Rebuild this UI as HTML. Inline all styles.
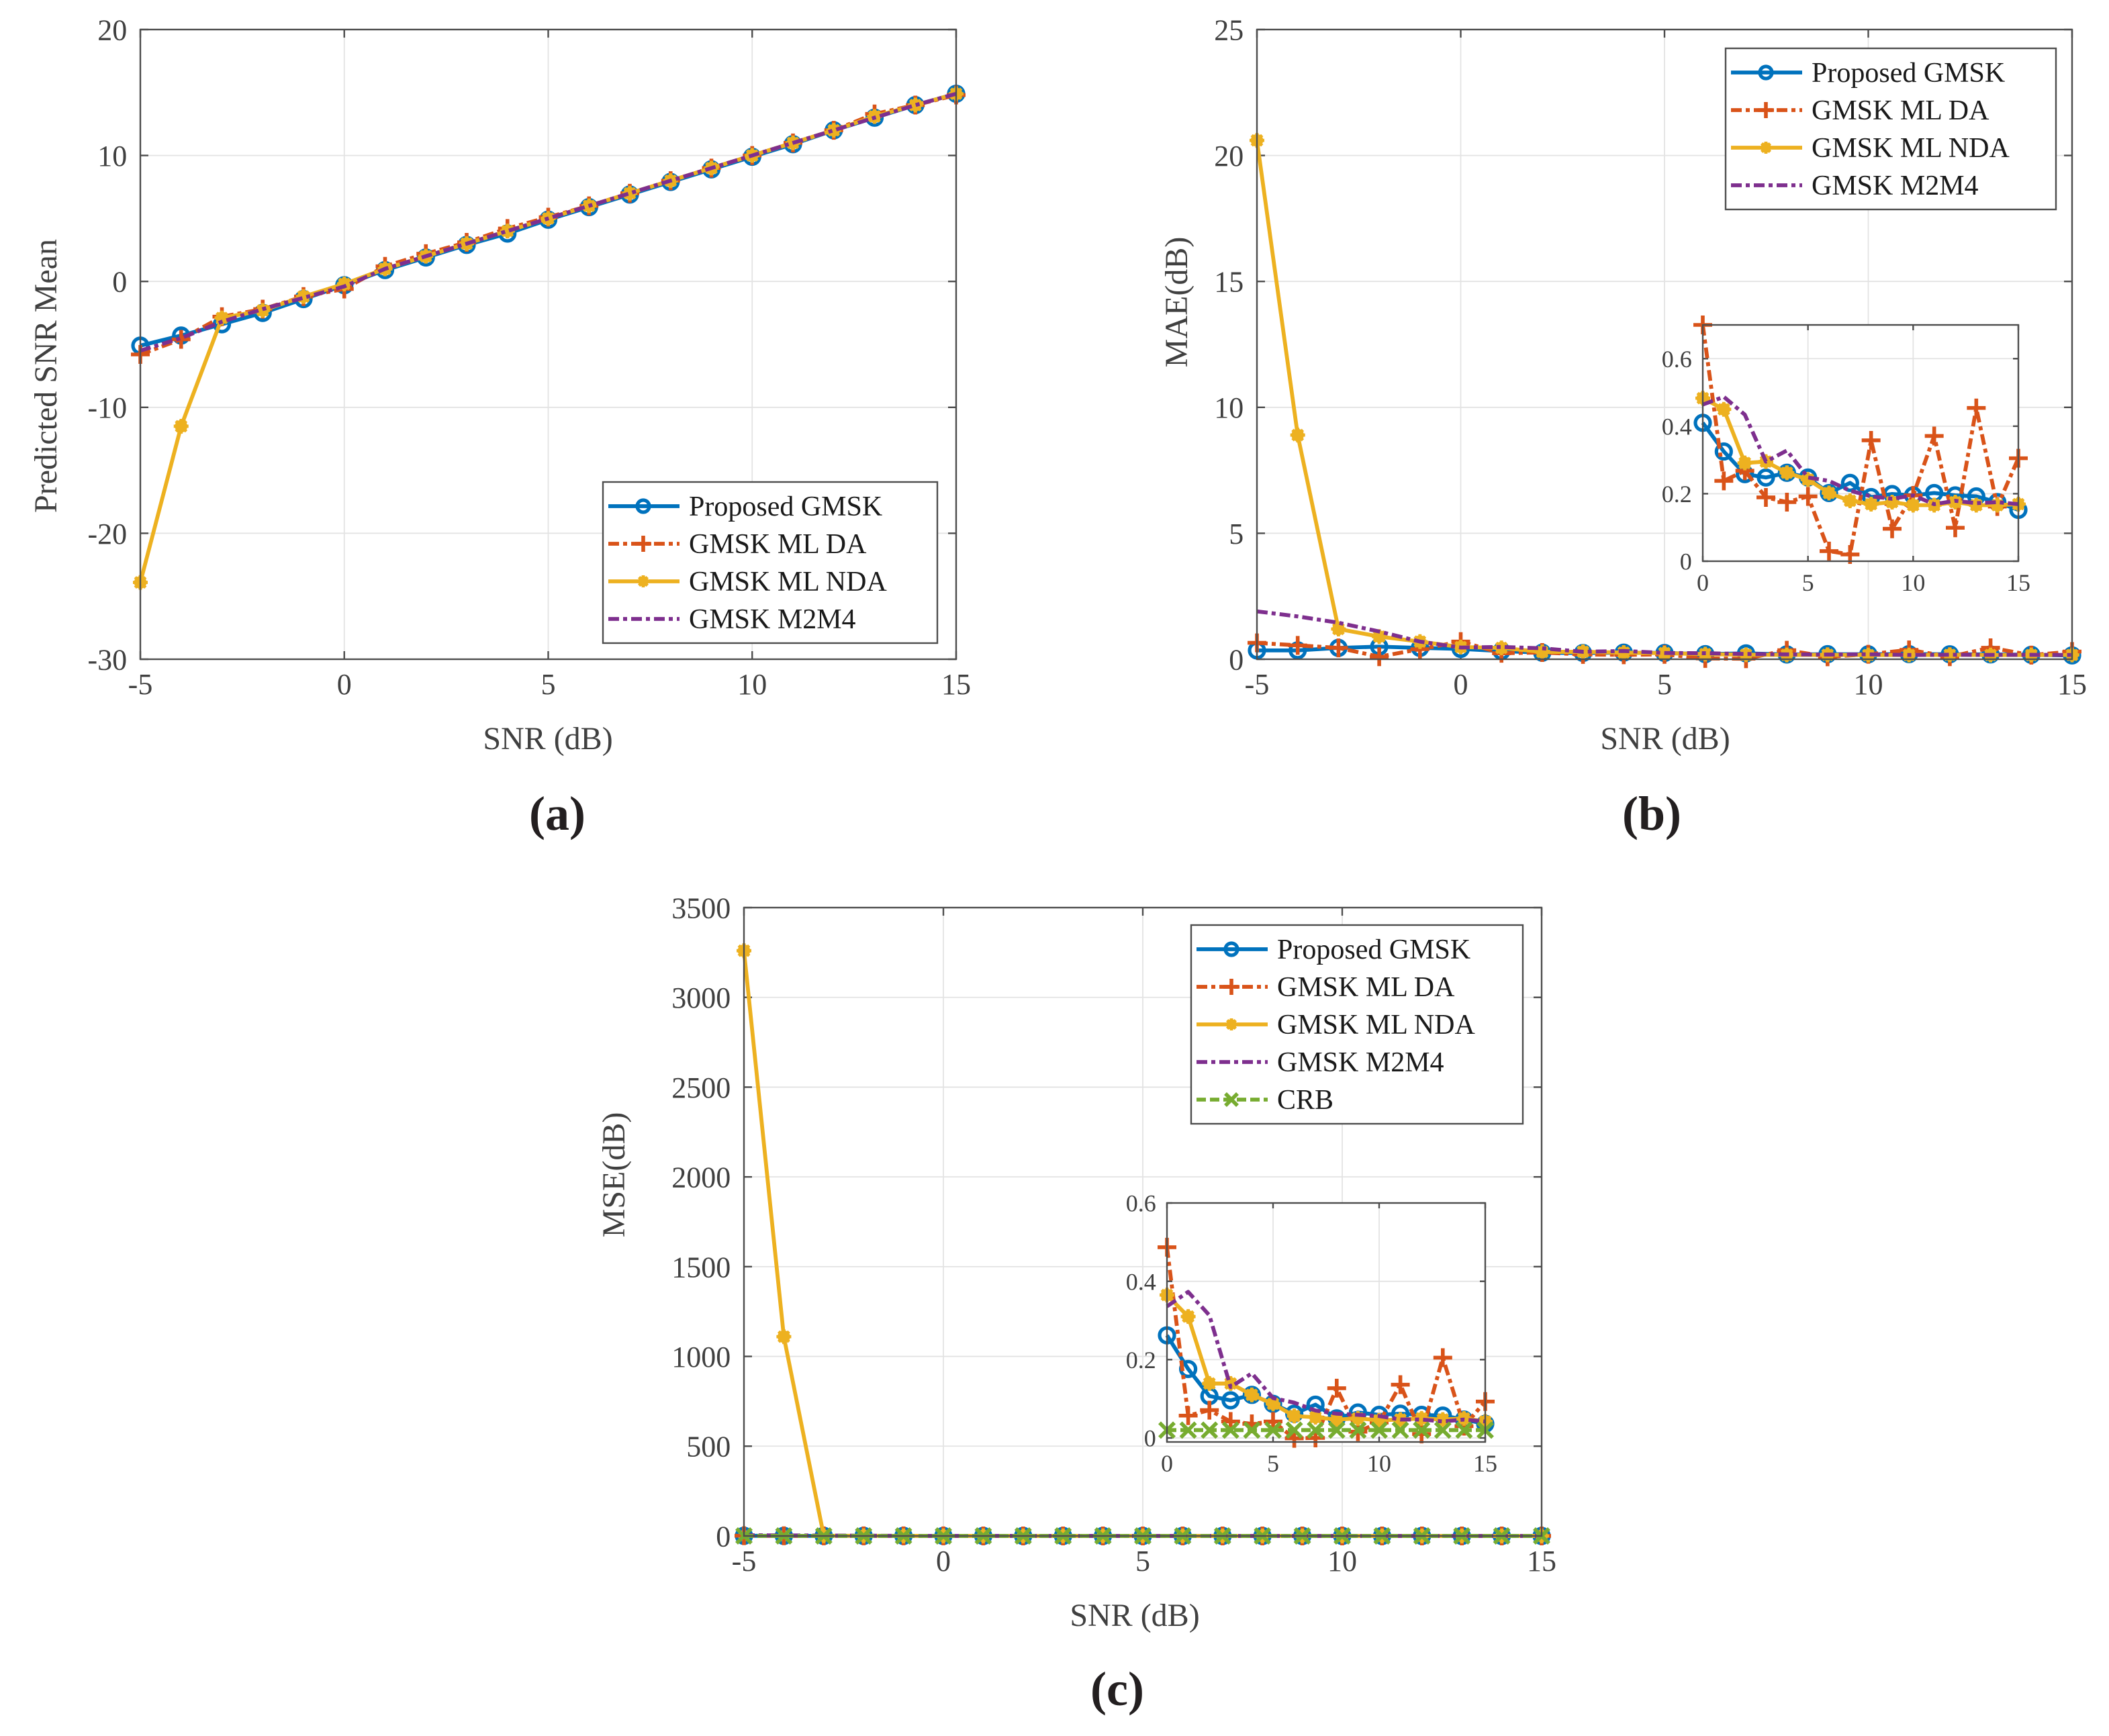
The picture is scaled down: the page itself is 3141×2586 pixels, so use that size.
<!DOCTYPE html>
<html><head><meta charset="utf-8"><style>
html,body{margin:0;padding:0;background:#fff}
svg{display:block}
text{font-family:"Liberation Serif",serif}
</style></head><body>
<svg id="fig" xmlns="http://www.w3.org/2000/svg" width="3141" height="2586" viewBox="0 0 1570.5 1293">
<rect x="0" y="0" width="1570.5" height="1293" fill="#fff"/>
</svg>
<script>
const snr=[-5,-4,-3,-2,-1,0,1,2,3,4,5,6,7,8,9,10,11,12,13,14,15];
const labelsSeries=["Proposed GMSK","GMSK ML DA","GMSK ML NDA","GMSK M2M4","CRB"];
const xTicks=[-5,0,5,10,15];
const insetXTicks=[0,5,10,15];
const yTicksA=[-30,-20,-10,0,10,20];
const yTicksB=[0,5,10,15,20,25];
const yTicksC=[0,500,1000,1500,2000,2500,3000,3500];
const yTicksInB=[0,0.2,0.4,0.6];
const yTicksInC=[0,0.2,0.4,0.6];
const yTickLabelsInB=["0","0.2","0.4","0.6"];
const yTickLabelsInC=["0","0.2","0.4","0.6"];
// (a) Predicted SNR mean
const blueA=[-5.1,-4.3,-3.4,-2.5,-1.4,-0.3,0.9,1.9,2.9,3.8,4.9,5.9,6.9,7.9,8.9,9.9,10.9,12.0,13.0,14.0,14.9];
const redA=[-5.8,-4.6,-2.8,-2.2,-1.2,-0.6,1.2,2.2,3.1,4.2,5.1,6.0,7.0,8.0,9.0,10.0,11.0,12.0,13.3,14.0,14.8];
const yelA=[-23.9,-11.5,-2.9,-2.3,-1.2,-0.2,1.0,2.0,3.0,4.0,5.0,6.0,7.0,8.0,9.0,10.0,11.0,12.0,13.1,14.0,14.9];
const purA=[-5.5,-4.5,-3.2,-2.2,-1.3,-0.4,1.0,2.0,3.0,4.0,5.0,6.0,7.0,8.0,9.0,10.0,11.0,12.0,13.0,14.0,14.9];
// (b) MAE
const blueB=[0.35,0.35,0.45,0.5,0.45,0.41,0.325,0.258,0.248,0.262,0.248,0.202,0.232,0.19,0.199,0.195,0.202,0.195,0.192,0.175,0.152];
const redB=[0.65,0.55,0.45,0.1,0.4,0.70,0.238,0.268,0.189,0.175,0.192,0.03,0.02,0.358,0.096,0.195,0.371,0.099,0.454,0.162,0.305];
const yelB=[20.6,8.9,1.2,0.9,0.7,0.483,0.45,0.291,0.295,0.262,0.242,0.202,0.179,0.169,0.175,0.166,0.166,0.175,0.166,0.166,0.169];
const purB=[1.9,1.7,1.45,1.1,0.7,0.464,0.487,0.434,0.295,0.328,0.248,0.238,0.209,0.192,0.185,0.195,0.169,0.179,0.172,0.175,0.169];
// (c) MSE
const blueC=[1.0,0.6,0.5,0.5,0.4,0.262,0.176,0.107,0.096,0.110,0.087,0.062,0.085,0.05,0.065,0.059,0.062,0.059,0.057,0.047,0.036];
const redC=[1.2,0.8,0.6,0.3,0.5,0.487,0.057,0.071,0.042,0.036,0.042,-0.001,0,0.127,0.016,0.039,0.136,0.01,0.205,0.03,0.093];
const yelC=[3260,1110,1.5,0.9,0.6,0.365,0.31,0.139,0.139,0.110,0.087,0.056,0.053,0.047,0.05,0.045,0.047,0.05,0.047,0.05,0.042];
const purC=[4.0,3.0,2.2,1.3,0.6,0.336,0.373,0.313,0.13,0.165,0.102,0.09,0.07,0.062,0.059,0.056,0.047,0.047,0.042,0.047,0.042];
const crbC=[0.3,0.2,0.1,0.06,0.03,0.02,0.02,0.02,0.02,0.02,0.02,0.02,0.02,0.02,0.02,0.02,0.02,0.02,0.02,0.02,0.02];

const NS="http://www.w3.org/2000/svg";
const svg=document.getElementById('fig');
const COL=["#0072BD","#D95319","#EDB120","#7E2F8E","#77AC30"];
const DASH=["","8,3,3,3","","8,3,3,3","7,3"];
const MK=["o","+","*","","x"];
function el(tag,attrs,parent){const e=document.createElementNS(NS,tag);for(const k in attrs)e.setAttribute(k,attrs[k]);(parent||svg).appendChild(e);return e;}
function txt(s,x,y,size,anchor,parent,extra){const t=el('text',Object.assign({x:x,y:y,'font-size':size,'text-anchor':anchor||'middle',fill:'#404040'},extra||{}),parent);t.textContent=s;return t;}

function makeAxes(name,c){
  const g=el('g',{});
  
  
  const sx=v=>c.px0+(v-c.x0)/(c.x1-c.x0)*(c.px1-c.px0);
  const sy=v=>c.py0+(v-c.y0)/(c.y1-c.y0)*(c.py1-c.py0);
  const bt=c.boxTop!==undefined?c.boxTop:c.py1, bb=c.boxBottom!==undefined?c.boxBottom:c.py0;
  if(c.fill) el('rect',{x:c.px0,y:bt,width:c.px1-c.px0,height:bb-bt,fill:'#fff'},g);
  const grid=el('g',{stroke:'#e3e3e3','stroke-width':0.9},g);
  
  
  c.xt.forEach(v=>el('line',{x1:sx(v),x2:sx(v),y1:bt,y2:bb},grid));
  c.yt.forEach(v=>el('line',{x1:c.px0,x2:c.px1,y1:sy(v),y2:sy(v)},grid));
  const tl=c.tick||6;
  const ax=el('g',{stroke:'#4d4d4d','stroke-width':1.2,fill:'none'},g);
  c.xt.forEach(v=>{el('line',{x1:sx(v),x2:sx(v),y1:bb,y2:bb-tl},ax);el('line',{x1:sx(v),x2:sx(v),y1:bt,y2:bt+tl},ax);});
  c.yt.forEach(v=>{el('line',{x1:c.px0,x2:c.px0+tl,y1:sy(v),y2:sy(v)},ax);el('line',{x1:c.px1,x2:c.px1-tl,y1:sy(v),y2:sy(v)},ax);});
  const xl=el('g',{},g);
  
  
  c.xt.forEach(v=>txt(String(v),sx(v),bb+c.fs+4,c.fs,'middle',xl));
  const yl=el('g',{},g);
  
  
  c.yt.forEach((v,i)=>txt(c.ytl?c.ytl[i]:String(v),c.px0-c.fs*0.45,sy(v)+c.fs*0.35,c.fs,'end',yl));
  return {g,sx,sy,c,bt,bb,ax};
}
function marker(type,x,y,color,p,r){
  r=r||5.5;
  if(type==='o') el('circle',{cx:x,cy:y,r:r,fill:'none',stroke:color,'stroke-width':2.6},p);
  else if(type==='+'){el('path',{d:`M${x-r-1.5},${y}H${x+r+1.5}M${x},${y-r-1.5}V${y+r+1.5}`,stroke:color,'stroke-width':2.8,fill:'none'},p);}
  else if(type==='x'){el('path',{d:`M${x-r},${y-r}L${x+r},${y+r}M${x-r},${y+r}L${x+r},${y-r}`,stroke:color,'stroke-width':2.8,fill:'none'},p);}
  else if(type==='*'){el('circle',{cx:x,cy:y,r:r*0.85,fill:color},p);
    el('path',{d:`M${x-r},${y}H${x+r}M${x},${y-r}V${y+r}M${x-r*0.7},${y-r*0.7}L${x+r*0.7},${y+r*0.7}M${x-r*0.7},${y+r*0.7}L${x+r*0.7},${y-r*0.7}`,stroke:color,'stroke-width':2.4,fill:'none'},p);}
}
function series(A,name,xs,ys,idx,clip){
  const g=el('g',clip?{'clip-path':'url(#'+clip+')'}:{},A.g);
  
  
  const pts=xs.map((x,i)=>[A.sx(x),A.sy(ys[i])]);
  el('polyline',{points:pts.map(p=>p.join(',')).join(' '),fill:'none',stroke:COL[idx],'stroke-width':2.9,'stroke-dasharray':DASH[idx],'stroke-linejoin':'round'},g);
  if(MK[idx]) pts.forEach(p=>marker(MK[idx],p[0],p[1],COL[idx],g));
}
function box(A){el('rect',{x:A.c.px0,y:A.bt,width:A.c.px1-A.c.px0,height:A.bb-A.bt,fill:'none',stroke:'#4d4d4d','stroke-width':1.2},A.g);}
function legend(name,x,y,w,n){
  const g=el('g',{});
  
  
  const h=n*28+8;
  el('rect',{x:x,y:y,width:w,height:h,fill:'#fff',stroke:'#4d4d4d','stroke-width':1.2},g);
  for(let i=0;i<n;i++){
    const yy=y+18+i*28;
    const e=el('g',{},g);
    
    
    el('line',{x1:x+4,x2:x+57,y1:yy,y2:yy,stroke:COL[i],'stroke-width':2.9,'stroke-dasharray':DASH[i]},e);
    if(MK[i]) marker(MK[i],x+30,yy,COL[i],e,4.5);
    txt(labelsSeries[i],x+64,yy+7,21,'start',e,{fill:'#1a1a1a'});
  }
}
const defs=el('defs',{});
function clipRect(id,x,y,w,h){const cp=el('clipPath',{id:id},defs);el('rect',{x:x,y:y,width:w,height:h},cp);}

// ---- (a)
const A=makeAxes('plot-a-axes',{x0:-5,x1:15,px0:104.5,px1:712,y0:-30,y1:20,py0:491,py1:22,xt:xTicks,yt:yTicksA,fs:22});
clipRect('ca',95,14,625,486);
series(A,'series-proposed-a',snr,blueA,0,'ca');
series(A,'series-ml-da-a',snr,redA,1,'ca');
series(A,'series-ml-nda-a',snr,yelA,2,'ca');
series(A,'series-m2m4-a',snr,purA,3,'ca');
box(A);
legend('legend-a',449,359,249,4);
txt('Predicted SNR Mean',42,280,24,'middle',null,{transform:'rotate(-90 42 280)'});
txt('SNR (dB)',408,558,24,'middle');
txt('(a)',415,618,36,'middle',null,{'font-weight':'bold',fill:'#231f20'});

// ---- (b)
const B=makeAxes('plot-b-axes',{x0:-5,x1:15,px0:936,px1:1543,y0:0,y1:25,py0:491,py1:22,xt:xTicks,yt:yTicksB,fs:22});
clipRect('cb',926,14,626,486);
series(B,'series-proposed-b',snr,blueB,0,'cb');
series(B,'series-ml-da-b',snr,redB,1,'cb');
series(B,'series-ml-nda-b',snr,yelB,2,'cb');
series(B,'series-m2m4-b',snr,purB,3,'cb');
box(B);
const snrIn=snr.slice(5);
const IB=makeAxes('inset-b-axes',{x0:0,x1:15,px0:1268,px1:1503,y0:0,y1:0.7,py0:418,py1:242,xt:insetXTicks,yt:yTicksInB,ytl:yTickLabelsInB,fs:18,fill:true,tick:4});
series(IB,'inset-proposed-b',snrIn,blueB.slice(5),0);
series(IB,'inset-ml-da-b',snrIn,redB.slice(5),1);
series(IB,'inset-ml-nda-b',snrIn,yelB.slice(5),2);
series(IB,'inset-m2m4-b',snrIn,purB.slice(5),3);
box(IB);
legend('legend-b',1285,36,246,4);
txt('MAE(dB)',884,225,24,'middle',null,{transform:'rotate(-90 884 225)'});
txt('SNR (dB)',1240,558,24,'middle');
txt('(b)',1230,618,36,'middle',null,{'font-weight':'bold',fill:'#231f20'});

// ---- (c)
const C=makeAxes('plot-c-axes',{x0:-5,x1:15,px0:554,px1:1148,y0:0,y1:3500,py0:1144,py1:676,xt:xTicks,yt:yTicksC,fs:22});
clipRect('cc',544,668,614,486);
series(C,'series-proposed-c',snr,blueC,0,'cc');
series(C,'series-ml-da-c',snr,redC,1,'cc');
series(C,'series-ml-nda-c',snr,yelC,2,'cc');
series(C,'series-m2m4-c',snr,purC,3,'cc');
series(C,'series-crb-c',snr,crbC,4,'cc');
box(C);
const IC=makeAxes('inset-c-axes',{x0:0,x1:15,px0:869,px1:1106,y0:0,y1:0.6,py0:1071,py1:896,boxBottom:1074,xt:insetXTicks,yt:yTicksInC,ytl:yTickLabelsInC,fs:18,fill:true,tick:4});
series(IC,'inset-proposed-c',snrIn,blueC.slice(5),0);
series(IC,'inset-ml-da-c',snrIn,redC.slice(5),1);
series(IC,'inset-ml-nda-c',snrIn,yelC.slice(5),2);
series(IC,'inset-m2m4-c',snrIn,purC.slice(5),3);
series(IC,'inset-crb-c',snrIn,crbC.slice(5),4);
box(IC);
legend('legend-c',887,689,247,5);
txt('MSE(dB)',465,875,24,'middle',null,{transform:'rotate(-90 465 875)'});
txt('SNR (dB)',845,1211,24,'middle');
txt('(c)',832,1270,36,'middle',null,{'font-weight':'bold',fill:'#231f20'});
</script>
</body></html>
